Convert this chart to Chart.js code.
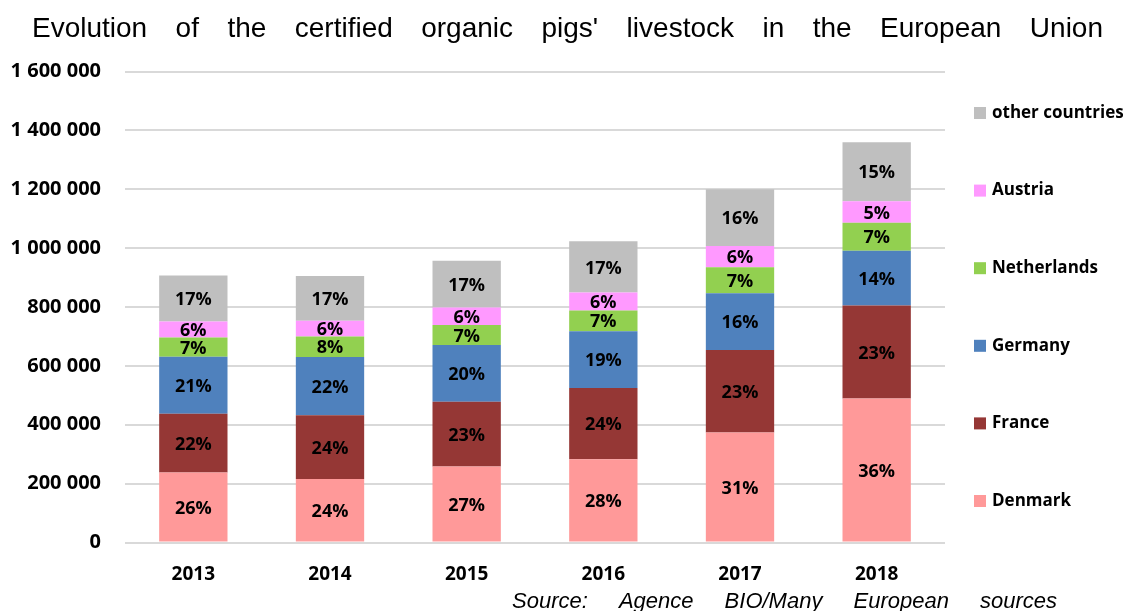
<!DOCTYPE html>
<html>
<head>
<meta charset="utf-8">
<title>Organic pigs livestock EU</title>
<script src="https://cdn.jsdelivr.net/npm/chart.js@4/dist/chart.umd.min.js"></script>
<style>
  html, body { margin: 0; padding: 0; background: #fff; }
  #wrap { width: 1129px; height: 611px; }
</style>
</head>
<body>
<div id="wrap"><canvas id="pigsChart" width="1129" height="611"></canvas></div>
<script>
// Head count per country and year (certified organic pigs)
const years = ["2013", "2014", "2015", "2016", "2017", "2018"];
const denmark = [238000, 216000, 258000, 283000, 374000, 489000];
const france = [199000, 216000, 220000, 242000, 280000, 316000];
const germany = [194000, 198000, 193000, 193000, 193000, 186000];
const netherlands = [65000, 70000, 68000, 70000, 88000, 95000];
const austria = [55000, 53000, 59000, 61000, 72000, 73000];
const otherCountries = [156000, 152000, 159000, 174000, 193000, 201000];
const yTicks = [0, 200000, 400000, 600000, 800000, 1000000, 1200000, 1400000, 1600000];

const titleText = "Evolution of the certified organic pigs' livestock in the European Union";
const sourceText = "Source:  Agence  BIO/Many  European  sources";

const boldFont = "'Open Sans', Lato, sans-serif";
const plainFont = "'Liberation Sans', Arial, sans-serif";

const series = [
  { label: "Denmark", data: denmark, color: "#FF9999" },
  { label: "France", data: france, color: "#953735" },
  { label: "Germany", data: germany, color: "#4F81BD" },
  { label: "Netherlands", data: netherlands, color: "#92D050" },
  { label: "Austria", data: austria, color: "#FF99FF" },
  { label: "other countries", data: otherCountries, color: "#BFBFBF" },
];

// totals per year, used for the share labels
const totals = years.map((_, i) => series.reduce((s, d) => s + d.data[i], 0));

const fmtThousands = (v) => String(v).replace(/\B(?=(\d{3})+(?!\d))/g, " ");

// draw a line of text spread word by word between x0 and x1
function drawJustified(ctx, text, x0, x1, y) {
  const words = text.split(/\s+/);
  const widths = words.map((w) => ctx.measureText(w).width);
  const used = widths.reduce((a, b) => a + b, 0);
  const gap = words.length > 1 ? (x1 - x0 - used) / (words.length - 1) : 0;
  let x = x0;
  words.forEach((w, i) => {
    ctx.fillText(w, x, y);
    x += widths[i] + gap;
  });
}

// percentage labels inside each segment
const shareLabels = {
  id: "shareLabels",
  afterDatasetsDraw(chart) {
    const ctx = chart.ctx;
    ctx.save();
    ctx.font = "bold 18px " + boldFont;
    ctx.fillStyle = "#000";
    ctx.textAlign = "center";
    ctx.textBaseline = "middle";
    chart.data.datasets.forEach((ds, di) => {
      const meta = chart.getDatasetMeta(di);
      meta.data.forEach((bar, i) => {
        const { x, y, base } = bar.getProps(["x", "y", "base"], true);
        const pct = Math.round((ds.data[i] / totals[i]) * 100);
        ctx.fillText(pct + "%", x, (y + base) / 2 + 1.5);
      });
    });
    ctx.restore();
  },
};

// title, source line and the right-hand legend
const decorations = {
  id: "decorations",
  afterDraw(chart) {
    const ctx = chart.ctx;
    const area = chart.chartArea;
    ctx.save();
    ctx.fillStyle = "#000";
    ctx.textBaseline = "alphabetic";
    ctx.textAlign = "left";
    ctx.font = "28px " + plainFont;
    drawJustified(ctx, titleText, 32, 1103, 37);
    ctx.font = "italic 22px " + plainFont;
    drawJustified(ctx, sourceText, 512, 1057, 608);

    const step = 77.6;
    const midY = (area.top + area.bottom) / 2;
    const items = chart.data.datasets.slice().reverse();
    ctx.font = "bold 17px " + boldFont;
    ctx.textBaseline = "middle";
    items.forEach((ds, k) => {
      const cy = midY + (k - 2.5) * step;
      ctx.fillStyle = ds.backgroundColor;
      ctx.fillRect(area.right + 29, cy - 6, 12, 12);
      ctx.fillStyle = "#000";
      ctx.fillText(ds.label, area.right + 47, cy);
    });
    ctx.restore();
  },
};

new Chart(document.getElementById("pigsChart"), {
  type: "bar",
  data: {
    labels: years,
    datasets: series.map((s) => ({
      label: s.label,
      data: s.data,
      backgroundColor: s.color,
      borderWidth: 0,
      barPercentage: 0.5,
      categoryPercentage: 1.0,
    })),
  },
  options: {
    responsive: false,
    animation: false,
    layout: { padding: { top: 71.5, right: 184, bottom: 0, left: 0 } },
    plugins: {
      legend: { display: false },
      title: { display: false },
      tooltip: { enabled: false },
    },
    scales: {
      x: {
        stacked: true,
        grid: { display: false },
        border: { display: false },
        ticks: {
          color: "#000",
          font: { family: boldFont, size: 19, weight: "bold" },
          padding: 13,
        },
        afterFit: (scale) => { scale.height = 68.5; },
      },
      y: {
        stacked: true,
        min: 0,
        max: 1600000,
        afterBuildTicks: (scale) => { scale.ticks = yTicks.map((v) => ({ value: v })); },
        grid: { color: "#D9D9D9", lineWidth: 2, drawTicks: false },
        border: { display: false },
        ticks: {
          color: "#000",
          font: { family: boldFont, size: 20, weight: "bold" },
          padding: 24,
          callback: (v) => fmtThousands(v),
        },
        afterFit: (scale) => { scale.width = 125; },
      },
    },
  },
  plugins: [shareLabels, decorations],
});
</script>
</body>
</html>
